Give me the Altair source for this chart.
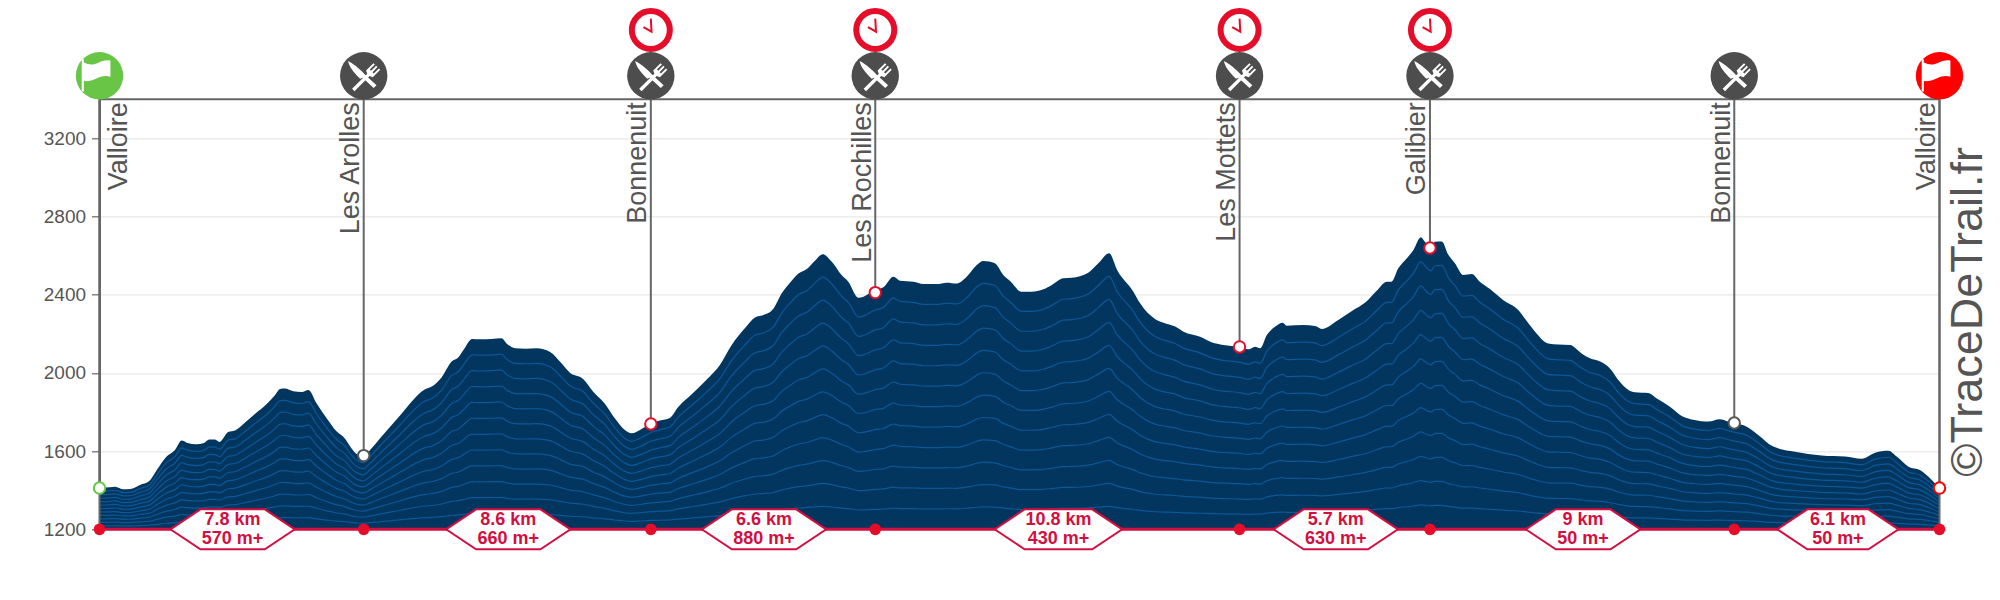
import altair as alt
import pandas as pd

# elevation profile (km, metres)
km = [0.0,0.31,0.46,0.71,0.91,1.20,1.48,1.70,1.99,2.24,2.44,2.59,2.88,3.08,3.26,3.43,3.56,3.82,4.02,4.32,4.61,4.96,5.21,5.36,5.50,5.75,6.00,6.20,6.44,6.74,7.04,7.28,7.48,7.63,7.83,8.03,8.32,8.67,8.97,9.26,9.66,9.86,10.15,10.45,10.65,10.80,11.06,11.29,11.64,11.93,12.08,12.33,12.63,12.97,13.37,13.71,13.96,14.35,14.65,14.99,15.29,15.59,15.79,16.04,16.38,16.63,16.93,17.18,17.62,18.02,18.41,18.76,19.15,19.45,19.70,20.00,20.24,20.49,20.74,20.99,21.23,21.46,21.73,22.02,22.22,22.52,22.67,23.01,23.26,23.56,23.76,24.15,24.45,24.84,25.14,25.44,25.78,26.03,26.23,26.57,26.82,27.02,27.36,27.66,28.01,28.26,28.60,28.85,29.34,29.64,29.96,30.20,30.68,30.88,31.32,31.57,31.92,32.17,32.66,33.00,33.35,33.82,34.10,34.29,34.44,34.64,34.89,35.11,35.23,35.72,36.07,36.27,36.76,37.21,37.55,37.90,38.20,38.34,38.54,38.79,38.99,39.21,39.33,39.50,39.63,39.83,40.03,40.22,40.47,40.72,40.96,41.26,41.65,42.10,42.40,42.60,42.99,43.29,43.64,43.98,44.23,44.53,44.82,45.07,45.37,45.56,45.96,46.20,46.60,46.95,47.34,47.74,48.08,48.33,48.51,48.88,49.22,49.67,50.31,51.10,51.80,52.29,52.69,53.08,53.33,53.68,54.02,54.37,54.6]
ele = [1413,1415,1418,1405,1406,1427,1447,1503,1572,1606,1654,1643,1635,1640,1660,1659,1647,1698,1705,1746,1790,1841,1887,1918,1920,1906,1902,1913,1845,1768,1700,1665,1614,1585,1572,1606,1665,1734,1793,1853,1916,1930,1977,2058,2080,2117,2174,2172,2174,2177,2151,2126,2124,2126,2107,2049,2001,1969,1904,1844,1768,1708,1691,1708,1742,1756,1771,1827,1899,1967,2041,2143,2228,2284,2296,2330,2407,2462,2509,2532,2574,2607,2569,2501,2467,2385,2390,2424,2438,2492,2472,2467,2455,2455,2462,2458,2501,2552,2573,2561,2501,2470,2416,2416,2428,2450,2484,2487,2513,2561,2612,2526,2416,2356,2276,2257,2237,2211,2185,2157,2143,2133,2121,2134,2126,2194,2237,2257,2242,2245,2240,2225,2271,2322,2359,2421,2467,2467,2535,2586,2629,2694,2671,2642,2671,2673,2603,2561,2501,2506,2467,2429,2373,2322,2254,2211,2151,2146,2143,2100,2075,2058,2023,1964,1913,1901,1897,1870,1827,1780,1759,1751,1763,1751,1742,1725,1683,1623,1597,1578,1572,1561,1592,1602,1572,1520,1503,1452,1410]

station_names = ["Valloire","Les Arolles","Bonnenuit","Les Rochilles","Les Mottets","Galibier","Bonnenuit","Valloire"]
station_km = [0.0,7.84,16.36,23.02,33.83,39.48,48.51,54.6]
station_ele = [1411,1577,1739,2411,2133,2639,1744,1411]
station_color = ["#68c545","#555555","#e60d2a","#e60d2a","#e60d2a","#e60d2a","#555555","#ff0000"]
clock_km = [16.36,23.02,33.83,39.48]
dining_km = [7.84,16.36,23.02,33.83,39.48,48.51]

segment_km = ["7.8 km","8.6 km","6.6 km","10.8 km","5.7 km","9 km","6.1 km"]
segment_gain = ["570 m+","660 m+","880 m+","430 m+","630 m+","50 m+","50 m+"]
y_ticks = [1200,1600,2000,2400,2800,3200]

BASE, TOP, END = 1200, 3400, 54.6
GRAY, CRIMSON, RED = "#666666", "#d20f40", "#e60d2a"

FLAG = ("M-0.75,-0.70L-0.66,-0.70L-0.66,-0.56C-0.45,-0.45 -0.25,-0.45 -0.05,-0.55C0.1,-0.63 0.3,-0.68 0.46,-0.64"
        "L0.46,0.04C0.3,-0.02 0.1,0 -0.1,0.1C-0.3,0.2 -0.5,0.24 -0.66,0.22L-0.66,0.66L-0.75,0.66Z")
CUTLERY = ("M-0.66,-0.62C-0.35,-0.45 -0.08,-0.2 0.06,-0.04L0.54,0.40L0.42,0.52L-0.05,0.08L-0.15,0.12"
           "C-0.45,-0.15 -0.62,-0.4 -0.66,-0.62Z"
           "M-0.49,0.55L0.15,-0.09L0.10,-0.22L0.41,-0.53L0.47,-0.48L0.256,-0.27L0.313,-0.21L0.525,-0.42"
           "L0.58,-0.37L0.37,-0.153L0.426,-0.097L0.64,-0.31L0.695,-0.26L0.384,0.059L0.25,0.01L-0.39,0.65Z")
HANDS = "M0,-0.48L0.03,0.07L-0.31,-0.12"


def hexagon(dist, gain):
    half = 43 + 1.6 * (len(dist) + len(gain))
    flat = half - 30
    return f"M{-half},0L{-flat},-20L{flat},-20L{half},0L{flat},20L{-flat},20Z"


profile = pd.DataFrame({"km": km, "ele": ele, "base": BASE})
contours = pd.concat(
    [pd.DataFrame({"km": km, "ele": [BASE + (e - BASE) * k / 12 for e in ele], "level": k}) for k in range(1, 12)]
)
stations = pd.DataFrame({"name": station_names, "km": station_km, "ele": station_ele,
                         "color": station_color, "top": TOP, "base": BASE})
segments = pd.DataFrame({
    "km": [(a + b) / 2 for a, b in zip(station_km[:-1], station_km[1:])],
    "dist": segment_km, "gain": segment_gain, "base": BASE,
    "hex": [hexagon(d, g) for d, g in zip(segment_km, segment_gain)],
})

X_SCALE = alt.Scale(domain=[0, END], nice=False, zero=False)
X = alt.X("km:Q", scale=X_SCALE, axis=None)
Y_SCALE = alt.Scale(domain=[BASE, TOP], nice=False, zero=False)
Y_AXIS = alt.Axis(values=y_ticks, format="d", grid=True, gridColor="#e8e8e8", gridWidth=1.2, domain=True, domainColor=GRAY,
                  domainWidth=2, tickColor=GRAY, tickWidth=1.2, tickSize=8, labelColor="#555555", labelFontSize=19,
                  labelFont="Liberation Sans", labelPadding=6, title=None)
Y_PLAIN = alt.Y("ele:Q", scale=Y_SCALE, axis=Y_AXIS, title=None)
Y_BASE = alt.Y("base:Q", scale=Y_SCALE, axis=Y_AXIS, title=None)
Y_TOP = alt.Y("top:Q", scale=Y_SCALE, axis=Y_AXIS, title=None)

area = alt.Chart(profile).mark_area(color="#03365f", interpolate="monotone").encode(x=X, y=Y_PLAIN, y2="base:Q")
lines = alt.Chart(contours).mark_line(color="#0b5798", strokeWidth=1.2, interpolate="monotone").encode(
    x=X, y=Y_PLAIN, detail="level:N")

top_line = alt.Chart(pd.DataFrame({"a": [0.0], "b": [END], "top": [TOP]})).mark_rule(color=GRAY, strokeWidth=2).encode(
    x=alt.X("a:Q", scale=X_SCALE, axis=None), x2="b:Q", y=Y_TOP)

rules = alt.Chart(stations).mark_rule(color=GRAY, strokeWidth=2).encode(x=X, y=Y_TOP, y2="ele:Q")
end_rules = alt.Chart(stations[stations.km.isin([0.0, END])]).mark_rule(color=GRAY, strokeWidth=2).encode(
    x=X, y=Y_TOP, y2="base:Q")

base_line = alt.Chart(pd.DataFrame({"a": [0.0], "b": [END], "base": [BASE]})).mark_rule(color=CRIMSON, strokeWidth=3).encode(
    x=alt.X("a:Q", scale=X_SCALE, axis=None), x2="b:Q", y=Y_BASE)

hexes = alt.Chart(segments).mark_point(filled=True, fill="white", stroke=CRIMSON, strokeWidth=2, opacity=1, size=4, xOffset=1).encode(
    x=X, y=Y_BASE, shape=alt.Shape("hex:N", scale=None, legend=None))
text_opts = dict(color=CRIMSON, font="Liberation Sans", fontWeight="bold", fontSize=18, align="center", baseline="middle", xOffset=1)
dist_text = alt.Chart(segments).mark_text(yOffset=-9, **text_opts).encode(x=X, y=Y_BASE, text="dist:N")
gain_text = alt.Chart(segments).mark_text(yOffset=10, **text_opts).encode(x=X, y=Y_BASE, text="gain:N")

base_dots = alt.Chart(stations).mark_point(shape="circle", filled=True, color=RED, opacity=1, size=137).encode(x=X, y=Y_BASE)
ele_dots = alt.Chart(stations).mark_point(shape="circle", filled=True, fill="white", strokeWidth=2, opacity=1, size=130).encode(
    x=X, y=Y_PLAIN, stroke=alt.Stroke("color:N", scale=None, legend=None))

label_opts = dict(color="#555555", font="Liberation Sans", fontSize=27, angle=270, align="right", baseline="alphabetic", yOffset=3)
first_label = alt.Chart(stations[stations.km == 0.0]).mark_text(xOffset=27, **label_opts).encode(x=X, y=Y_TOP, text="name:N")
other_labels = alt.Chart(stations[stations.km > 0.0]).mark_text(xOffset=-4.5, **label_opts).encode(x=X, y=Y_TOP, text="name:N")

ICON = 47.4 ** 2
dining = stations[stations.km.isin(dining_km)]
clocks = stations[stations.km.isin(clock_km)]
ends = stations[stations.km.isin([0.0, END])]
dining_disc = alt.Chart(dining).mark_point(shape="circle", filled=True, color="#4d4d4d", opacity=1, size=ICON, yOffset=-23.5).encode(x=X, y=Y_TOP)
dining_glyph = alt.Chart(dining).mark_point(shape=CUTLERY, filled=True, color="white", opacity=1, size=ICON, yOffset=-23.5).encode(x=X, y=Y_TOP)
end_disc = alt.Chart(ends).mark_point(shape="circle", filled=True, opacity=1, size=ICON, yOffset=-23.5).encode(
    x=X, y=Y_TOP, fill=alt.Fill("color:N", scale=None, legend=None))
end_glyph = alt.Chart(ends).mark_point(shape=FLAG, filled=True, color="white", opacity=1, size=ICON, yOffset=-23.5).encode(x=X, y=Y_TOP)
clock_ring = alt.Chart(clocks).mark_point(shape="circle", filled=True, fill="white", stroke="#e60d2a", strokeWidth=6, opacity=1, size=38 ** 2, yOffset=-69.3).encode(x=X, y=Y_TOP)
clock_hands = alt.Chart(clocks).mark_point(shape=HANDS, filled=False, stroke="#e60d2a", strokeWidth=2, opacity=1, size=ICON, yOffset=-69.3).encode(x=X, y=Y_TOP)

mark_text = alt.Chart(pd.DataFrame({"km": [END], "top": [TOP], "t": ["©TraceDeTrail.fr"]})).mark_text(
    color="#555555", font="Liberation Sans", fontSize=45, angle=270, align="right", baseline="alphabetic",
    xOffset=42.5, yOffset=47.7).encode(x=X, y=Y_TOP, text="t:N")

chart = alt.layer(
    area, lines, top_line, rules, end_rules, base_line, hexes, dist_text, gain_text, base_dots, ele_dots,
    first_label, other_labels, dining_disc, dining_glyph, end_disc, end_glyph, clock_ring, clock_hands, mark_text,
).properties(
    width=1840, height=430,
    autosize=alt.AutoSizeParams(type="none"),
    padding={"left": 91.5, "top": 91.3, "right": 52.5, "bottom": 40},
).configure_view(stroke=None)

chart.save("out.html", embed_options={"renderer": "svg", "actions": False})
